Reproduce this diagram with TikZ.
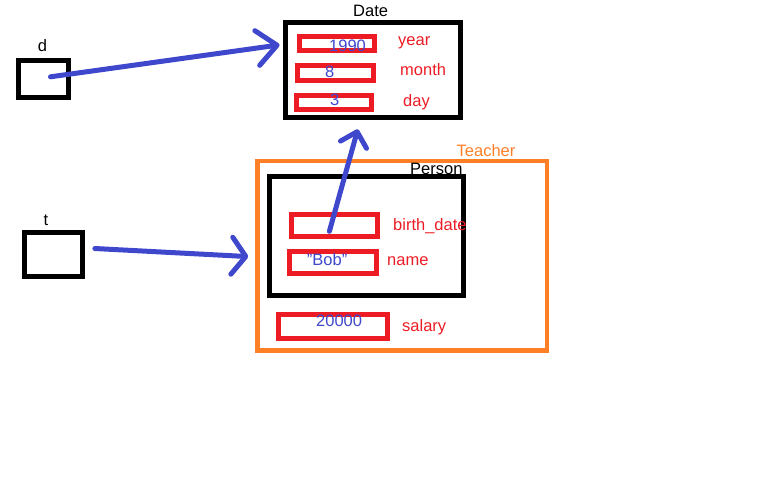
\documentclass[tikz,border=0pt]{standalone}
\usepackage{fontspec}
\setmainfont{Liberation Sans}
\usetikzlibrary{arrows.meta,calc}
\definecolor{pblue}{HTML}{3F48CC}
\definecolor{pred}{HTML}{ED1C24}
\definecolor{porange}{HTML}{FF7F27}
\tikzset{
  frame/.style={draw, line width=5pt, inner sep=0pt, minimum width=#1},
  objbox/.style={frame=#1, draw=black},
  fieldbox/.style={frame=#1, draw=pred},
  lbl/.style={anchor=base west, inner sep=0pt, font=\fontsize{16.5}{18}\selectfont},
  val/.style={lbl, text=pblue},
  fname/.style={lbl, text=pred},
  ptr/.style={draw=pblue, line width=5pt, line cap=round, line join=round},
}
\begin{document}
\begin{tikzpicture}[x=1pt, y=-1pt]
\useasboundingbox (0,0) rectangle (768,480);

% reference variables
\node[objbox=50, minimum height=36.7] (d) at (43.5,78.8) {};
\node[lbl] (dname) at (37.7,51.7) {d};
\node[objbox=57.5, minimum height=44] (t) at (53.6,254.5) {};
\node[lbl] (tname) at (43.3,225) {t};

% Date object
\node[objbox=175.5, minimum height=95.8] (date) at (372.8,69.9) {};
\node[lbl] (datename) at (353,16.7) {Date};
\node[fieldbox=75, minimum height=14] (year) at (336.5,43) {};
\node[fieldbox=76, minimum height=15] (month) at (335.8,72.7) {};
\node[fieldbox=75, minimum height=13.4] (day) at (334,102.5) {};
\node[val] (yearval) at (329,51) {1990};
\node[val] (monthval) at (325,77) {8};
\node[val] (dayval) at (330,105) {3};
\node[fname] (yearlbl) at (398,45) {year};
\node[fname] (monthlbl) at (400,75.7) {month};
\node[fname] (daylbl) at (403,106.7) {day};

% Teacher object with its Person part
\node[frame=289.5, draw=porange, line width=4.5pt, minimum height=189.5] (teacher) at (402.3,255.6) {};
\node[lbl, text=porange] (teachername) at (456.5,156) {Teacher};
\node[objbox=193.5, minimum height=118.2] (person) at (366.6,235.9) {};
\node[lbl] (personname) at (410,174) {Person};
\node[fieldbox=85.8, minimum height=22] (bdate) at (334.4,225.3) {};
\node[fieldbox=87, minimum height=22] (name) at (332.8,262.5) {};
\node[fieldbox=108.8, minimum height=24.3] (salary) at (332.9,326.3) {};
\node[val] (nameval) at (306.7,265) {"Bob"};
\node[val] (salaryval) at (316,326.7) {20000};
\node[fname] (bdatelbl) at (393,230) {birth\_date};
\node[fname] (namelbl) at (387,265) {name};
\node[fname] (salarylbl) at (402,331.7) {salary};

% references
\draw[ptr, -{Straight Barb[length=20pt, width=35pt, line cap=round, line join=round]}]
  ($(d.center)+(7,-2)$) -- ($(date.west)+(-3,-25)$);
\draw[ptr, -{Straight Barb[length=14pt, width=37pt, line cap=round, line join=round]}]
  ($(t.east)+(10,-6)$) -- ($(teacher.west)+(-7,1)$);
\draw[ptr, -{Straight Barb[length=13.5pt, width=27pt, line cap=round, line join=round]}]
  ($(bdate.center)+(-5,6)$) -- ($(date.south)+(-15,9)$);
\end{tikzpicture}
\end{document}
